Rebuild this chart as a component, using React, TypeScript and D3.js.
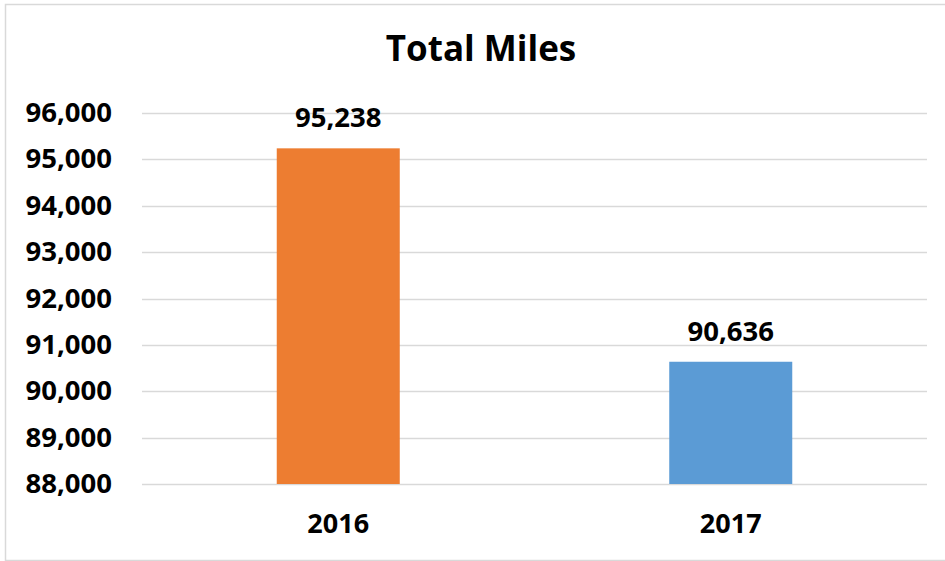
import React from "react";
import * as d3 from "d3";

const categories = ["2016", "2017"];
const values = [95238, 90636];
const barColors = ["#ED7D31", "#5B9BD5"];
const yTicks = [88000, 89000, 90000, 91000, 92000, 93000, 94000, 95000, 96000];
const title = "Total Miles";

const W = 945;
const H = 561;
const FONT = "'Open Sans', Lato, sans-serif";

export default function App() {
  const x = d3
    .scaleBand<string>()
    .domain(categories)
    .range([142, 927])
    .paddingInner(0.6866)
    .paddingOuter(0.6866 / 2);
  const y = d3.scaleLinear().domain([88000, 96000]).range([484, 113]);
  const fmt = d3.format(",");

  return (
    <svg
      width={W}
      height={H}
      style={{ position: "absolute", left: 0, top: 0, display: "block", background: "#fff" }}
    >
      <rect x={5.5} y={4.5} width={W + 10} height={556} fill="#fff" stroke="#d9d9d9" strokeWidth={1.5} />
      <text x={481} y={61} textAnchor="middle" fontFamily={FONT} fontWeight="bold" fontSize={35} fill="#000">
        {title}
      </text>
      {yTicks.map((t) => (
        <g key={t}>
          <line x1={142} x2={927} y1={Math.round(y(t)) + 0.5} y2={Math.round(y(t)) + 0.5} stroke="#d9d9d9" strokeWidth={1.5} />
          <text x={112} y={y(t) + 9} textAnchor="end" fontFamily={FONT} fontWeight="bold" fontSize={27.5} fill="#000">
            {fmt(t)}
          </text>
        </g>
      ))}
      {categories.map((c, i) => (
        <g key={c}>
          <rect x={x(c)} y={y(values[i])} width={x.bandwidth()} height={y(88000) - y(values[i])} fill={barColors[i]} />
          <text
            x={(x(c) as number) + x.bandwidth() / 2}
            y={y(values[i]) - 21}
            textAnchor="middle"
            fontFamily={FONT}
            fontWeight="bold"
            fontSize={27.5}
            fill="#000"
          >
            {fmt(values[i])}
          </text>
          <text
            x={(x(c) as number) + x.bandwidth() / 2}
            y={533}
            textAnchor="middle"
            fontFamily={FONT}
            fontWeight="bold"
            fontSize={27}
            fill="#000"
          >
            {c}
          </text>
        </g>
      ))}
    </svg>
  );
}
